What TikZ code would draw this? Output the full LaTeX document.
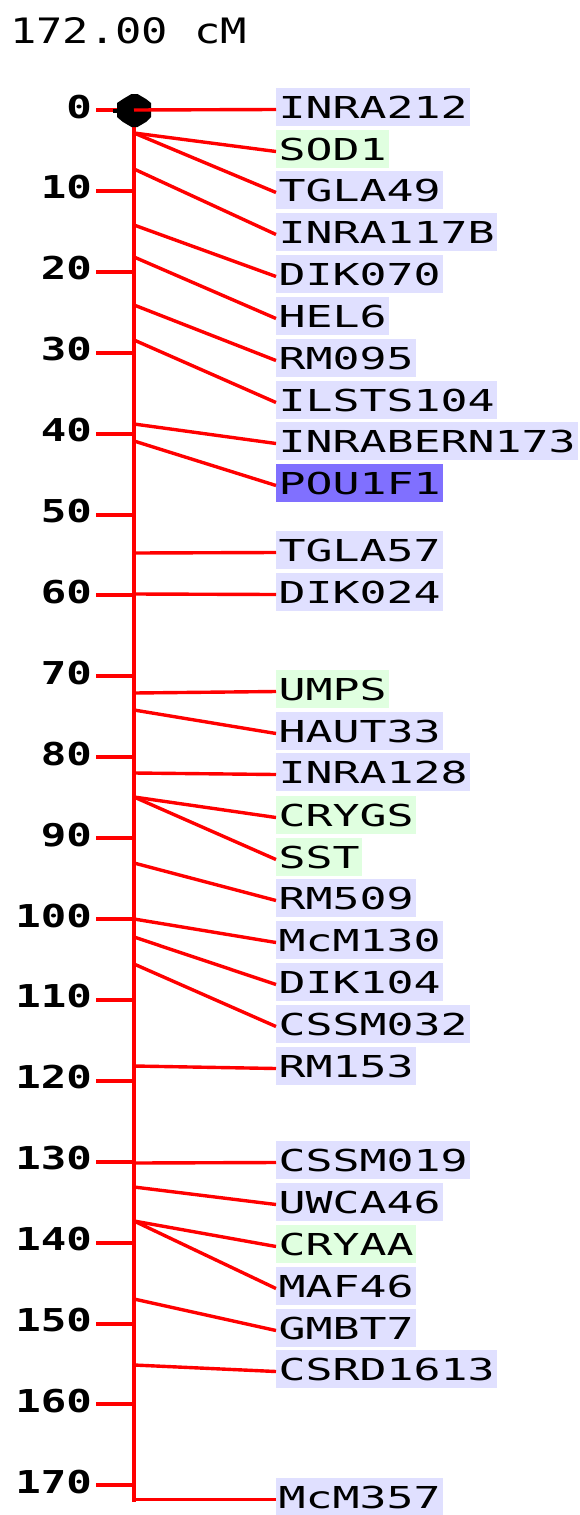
\documentclass[tikz,border=0pt]{standalone}
\usepackage{fontspec}
% wide monospaced faces for the map
\newfontfamily\labelfont[FakeStretch=1.485]{DejaVu Sans Mono}
\newfontfamily\titlefont[FakeStretch=1.25]{DejaVu Sans Mono}
\newfontfamily\tickfont[FakeStretch=1.345]{DejaVu Sans Mono}
\definecolor{mklav}{RGB}{224,224,255}
\definecolor{mkgreen}{RGB}{224,255,224}
\definecolor{mkblue}{RGB}{128,112,255}
\begin{document}
\begin{tikzpicture}[x=1pt,y=-1pt,
  axisline/.style={red,line width=4.5pt},
  tickline/.style={red,line width=4pt},
  mkline/.style={red,line width=3.4pt},
  mk/.style={inner xsep=2.5pt,inner ysep=8pt,text height=22pt,text depth=0pt,
    font=\labelfont\fontsize{30.2pt}{30.2pt}\selectfont,text=black},
  ticklabel/.style={anchor=base east,inner sep=0pt,
    font=\tickfont\bfseries\fontsize{31.5pt}{31.5pt}\selectfont},
]
\useasboundingbox (0,0) rectangle (579,1515);

% map length
\node[anchor=base west,inner sep=0pt,font=\titlefont\fontsize{35pt}{35pt}\selectfont]
  (title) at (10,43) {172.00 cM};

% scale ticks every 10 cM
\foreach \v in {0,10,...,170}{
  \pgfmathsetmacro\ty{110+8.09*\v}
  \coordinate (tl\v) at (96,\ty);
  \coordinate (tr\v) at (134,\ty);
  \draw[tickline] (tl\v) -- (tr\v);
  \node[ticklabel] (tick\v) at (92,\ty+8) {\v};
}

% chromosome axis
\coordinate (top) at (134,110);
\coordinate (bottom) at (134,1501.5);
\draw[axisline] (top) -- (bottom);

% start marker (stepped diamond)
\fill[black] (131.5,94) -- (137.5,94) -- (146,99) -- (151,103) -- (151,117)
  -- (146,122) -- (137.5,127) -- (131.5,127) -- (123,122) -- (117,117)
  -- (117,103) -- (123,99) -- cycle;
\fill[black] (113,108.5) rectangle (120,112.5);

% markers: name / position on axis / label centre / fill
\foreach \nm/\ys/\yc/\col in {
  INRA212/110/107/mklav, SOD1/133/149/mkgreen, TGLA49/133/190/mklav,
  INRA117B/169/232/mklav, DIK070/225/274/mklav, HEL6/257/316/mklav,
  RM095/305/358/mklav, ILSTS104/340/400/mklav, INRABERN173/424/441/mklav,
  POU1F1/441/483/mkblue, TGLA57/553/550/mklav, DIK024/594/592/mklav,
  UMPS/693/689/mkgreen, HAUT33/710/731/mklav, INRA128/773/772/mklav,
  CRYGS/797/815/mkgreen, SST/797/857/mkgreen, RM509/863/898/mklav,
  McM130/919/940/mklav, DIK104/937/982/mklav, CSSM032/964/1024/mklav,
  RM153/1066/1066/mklav, CSSM019/1163/1160/mklav, UWCA46/1187/1202/mklav,
  CRYAA/1221/1244/mkgreen, MAF46/1221/1286/mklav, GMBT7/1299/1328/mklav,
  CSRD1613/1365/1369/mklav, McM357/1499.5/1497/mklav}{
  \coordinate (a-\nm) at (134,\ys);
  \node[mk,fill=\col,anchor=west] (\nm) at (276,\yc) {\nm};
  \draw[mkline] (a-\nm) -- ([yshift=-2.5pt]\nm.west);
}
\end{tikzpicture}
\end{document}
